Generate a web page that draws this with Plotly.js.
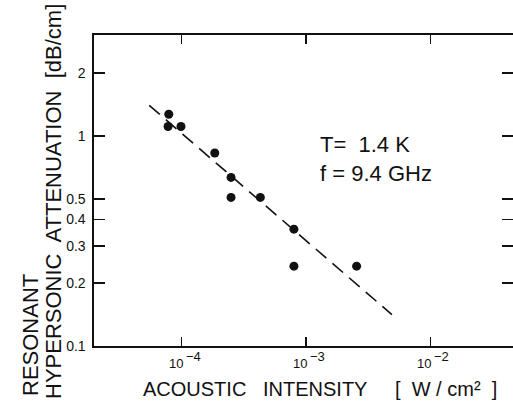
<!DOCTYPE html>
<html>
<head>
<meta charset="utf-8">
<script src="https://cdn.plot.ly/plotly-3.0.1.min.js"></script>
<style>html,body{margin:0;padding:0;background:#fff;}#chart{width:513px;height:402px;}</style>
</head>
<body>
<div id="chart"></div>
<script>
// Measured points: acoustic intensity [W/cm^2] vs attenuation [dB/cm]
var intensity = [7.9e-5, 7.8e-5, 9.9e-5, 1.85e-4, 2.5e-4, 2.5e-4, 4.3e-4, 8.0e-4, 8.0e-4, 2.55e-3];
var attenuation = [1.27, 1.11, 1.11, 0.83, 0.635, 0.51, 0.51, 0.36, 0.24, 0.24];
// Fitted dashed line end points
var fitX = [5.5e-5, 4.9e-3];
var fitY = [1.40, 0.141];
// Tick labels (10 to the power shown)
var xTickVals = [1e-4, 1e-3, 1e-2];
var xTickBase = ['10', '10', '10'];
var xTickExp = ['\u22124', '\u22123', '\u22122'];
var yTickVals = [0.1, 0.2, 0.3, 0.4, 0.5, 1, 2];
var yTickText = ['0.1', '0.2', '0.3', '0.4', '0.5', '1', '2'];

var ink = '#111111';
var font2 = 'Liberation Sans, Arial, sans-serif';

var traces = [
  {x: fitX, y: fitY, mode: 'lines', type: 'scatter',
   line: {color: ink, width: 1.6, dash: '14px,8px'}, hoverinfo: 'skip'},
  {x: intensity, y: attenuation, mode: 'markers', type: 'scatter',
   marker: {color: ink, size: 9}}
];

var annotations = [
  {text: 'RESONANT', xref: 'paper', yref: 'paper', x: -0.1504, y: -0.1672,
   xanchor: 'center', yanchor: 'bottom', textangle: -90, showarrow: false,
   font: {size: 22, family: font2, color: ink}},
  {text: 'HYPERSONIC  ATTENUATION  [dB/cm]', xref: 'paper', yref: 'paper', x: -0.0979, y: 0.4662,
   xanchor: 'center', yanchor: 'middle', textangle: -90, showarrow: false,
   font: {size: 22, family: font2, color: ink}},
  {text: 'ACOUSTIC   INTENSITY', xref: 'paper', yref: 'paper', x: 0.1122, y: -0.138,
   xanchor: 'left', yanchor: 'middle', showarrow: false,
   font: {size: 20, family: font2, color: ink}},
  {text: '[  W / cm\u00B2  ]', xref: 'paper', yref: 'paper', x: 0.7136, y: -0.138,
   xanchor: 'left', yanchor: 'middle', showarrow: false,
   font: {size: 20, family: font2, color: ink}},
  {text: 'T=  1.4 K<br>f = 9.4 GHz', xref: 'paper', yref: 'paper', x: 0.5346, y: 0.5997,
   xanchor: 'left', yanchor: 'middle', align: 'left', showarrow: false,
   font: {size: 22, family: font2, color: ink}}
];
// x tick labels placed at the axis tick values: base and exponent
xTickVals.forEach(function (v, i) {
  annotations.push({text: xTickBase[i], xref: 'x', yref: 'paper', x: Math.log10(v), y: -0.0547,
    xanchor: 'right', yanchor: 'middle', xshift: 3, showarrow: false,
    font: {size: 13, family: font2, color: ink}});
  annotations.push({text: xTickExp[i], xref: 'x', yref: 'paper', x: Math.log10(v), y: -0.0547,
    xanchor: 'left', yanchor: 'middle', xshift: 2, yshift: 7, showarrow: false,
    font: {size: 13, family: font2, color: ink}});
});

var layout = {
  width: 513, height: 402,
  margin: {l: 94, r: 0, t: 35, b: 56},
  paper_bgcolor: '#fff', plot_bgcolor: '#fff',
  showlegend: false,
  font: {family: font2, color: ink},
  xaxis: {
    type: 'log', range: [-4.703, -1.337],
    tickvals: xTickVals, showticklabels: false,
    ticks: 'inside', ticklen: 9, tickwidth: 1.5, tickcolor: ink,
    showline: true, linewidth: 1.6, linecolor: ink, mirror: 'ticks',
    showgrid: false, zeroline: false
  },
  yaxis: {
    type: 'log', range: [-1, 0.481],
    tickvals: yTickVals, ticktext: yTickText,
    ticks: 'inside', ticklen: 11, tickwidth: 1.5, tickcolor: ink,
    showline: true, linewidth: 1.6, linecolor: ink, mirror: 'ticks',
    showgrid: false, zeroline: false,
    tickfont: {size: 14, family: font2, color: ink},
    ticklabelstandoff: 4
  },
  annotations: annotations
};

Plotly.newPlot('chart', traces, layout, {displayModeBar: false, staticPlot: true});
</script>
</body>
</html>
